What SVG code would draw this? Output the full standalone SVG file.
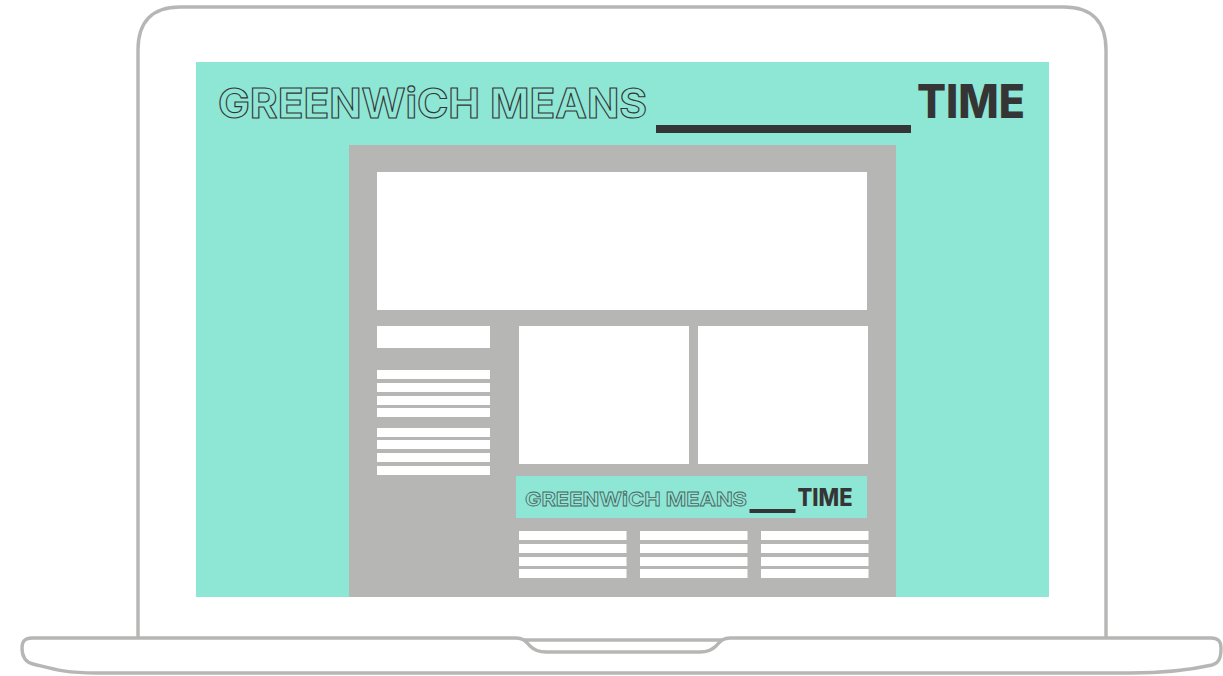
<svg xmlns="http://www.w3.org/2000/svg" width="1223" height="676" viewBox="0 0 1223 676">
<style>
.frame{fill:#fff;stroke:#b6b6b5;stroke-width:3.4;stroke-linejoin:round}
.mint{fill:#8ee6d5}
.grey{fill:#b6b6b4}
.w{fill:#fff}
.dark{fill:#353535}
.time{font-family:Inter,"Liberation Sans",sans-serif;font-weight:800;fill:#353535}
.out{font-family:Inter,"Liberation Sans",sans-serif;font-weight:700;fill:none;stroke:#353535}
</style>
<g id="laptop">
<path id="lid" class="frame" d="M138 640V50C138 22 152 7 180 7H1064C1092 7 1106 22 1106 50V640Z"/>
<path id="base" class="frame" d="M32 638H516C524 638 526 642 530 646C534 650 539 652 546 652H700C707 652 712 650 716 646C720 642 722 638 730 638H1211C1218 638 1221 641 1221 648C1221 658 1219 663 1212 665C1190 670 1165 673 1130 673H96C62 673 50 668 33 664C25 662 22 656 22 648C22 641 25 638 32 638Z"/>
</g>
<g id="screen">
<rect class="mint" x="196" y="62" width="853" height="535"/>
<text class="out" x="218" y="118" font-size="41" stroke-width="1.1" textLength="429" lengthAdjust="spacingAndGlyphs">GREENWiCH MEANS</text>
<rect class="dark" x="656" y="125" width="255" height="8"/>
<text class="time" x="917" y="118" font-size="47" textLength="108" lengthAdjust="spacingAndGlyphs">TIME</text>
</g>
<g id="page">
<rect class="grey" x="349" y="145" width="547" height="452"/>
<rect class="w" x="377" y="172" width="490" height="138"/>
<rect class="w" x="377" y="326" width="113" height="22"/>
<rect class="w" x="377" y="370" width="113" height="9"/>
<rect class="w" x="377" y="383" width="113" height="9"/>
<rect class="w" x="377" y="396" width="113" height="9"/>
<rect class="w" x="377" y="408" width="113" height="9"/>
<rect class="w" x="377" y="428" width="113" height="9"/>
<rect class="w" x="377" y="440" width="113" height="9"/>
<rect class="w" x="377" y="453" width="113" height="9"/>
<rect class="w" x="377" y="466" width="113" height="9"/>
<rect class="w" x="519" y="326" width="170" height="138"/>
<rect class="w" x="698" y="326" width="170" height="138"/>
</g>
<g id="banner">
<rect class="mint" x="516" y="476" width="351" height="42"/>
<text class="out" x="525" y="506" font-size="19.2" stroke-width=".8" textLength="222" lengthAdjust="spacingAndGlyphs" opacity=".75">GREENWiCH MEANS</text>
<rect class="dark" x="749.500" y="509" width="46" height="4"/>
<text class="time" x="797.500" y="506" font-size="24" textLength="55" lengthAdjust="spacingAndGlyphs">TIME</text>
</g>
<g id="columns">
<rect class="w" x="519" y="531" width="107.500" height="9"/>
<rect class="w" x="519" y="544" width="107.500" height="9"/>
<rect class="w" x="519" y="557" width="107.500" height="9"/>
<rect class="w" x="519" y="569" width="107.500" height="9"/>
<rect class="w" x="640" y="531" width="107.500" height="9"/>
<rect class="w" x="640" y="544" width="107.500" height="9"/>
<rect class="w" x="640" y="557" width="107.500" height="9"/>
<rect class="w" x="640" y="569" width="107.500" height="9"/>
<rect class="w" x="761" y="531" width="107.500" height="9"/>
<rect class="w" x="761" y="544" width="107.500" height="9"/>
<rect class="w" x="761" y="557" width="107.500" height="9"/>
<rect class="w" x="761" y="569" width="107.500" height="9"/>
</g>
<g id="connectors"/>
</svg>
